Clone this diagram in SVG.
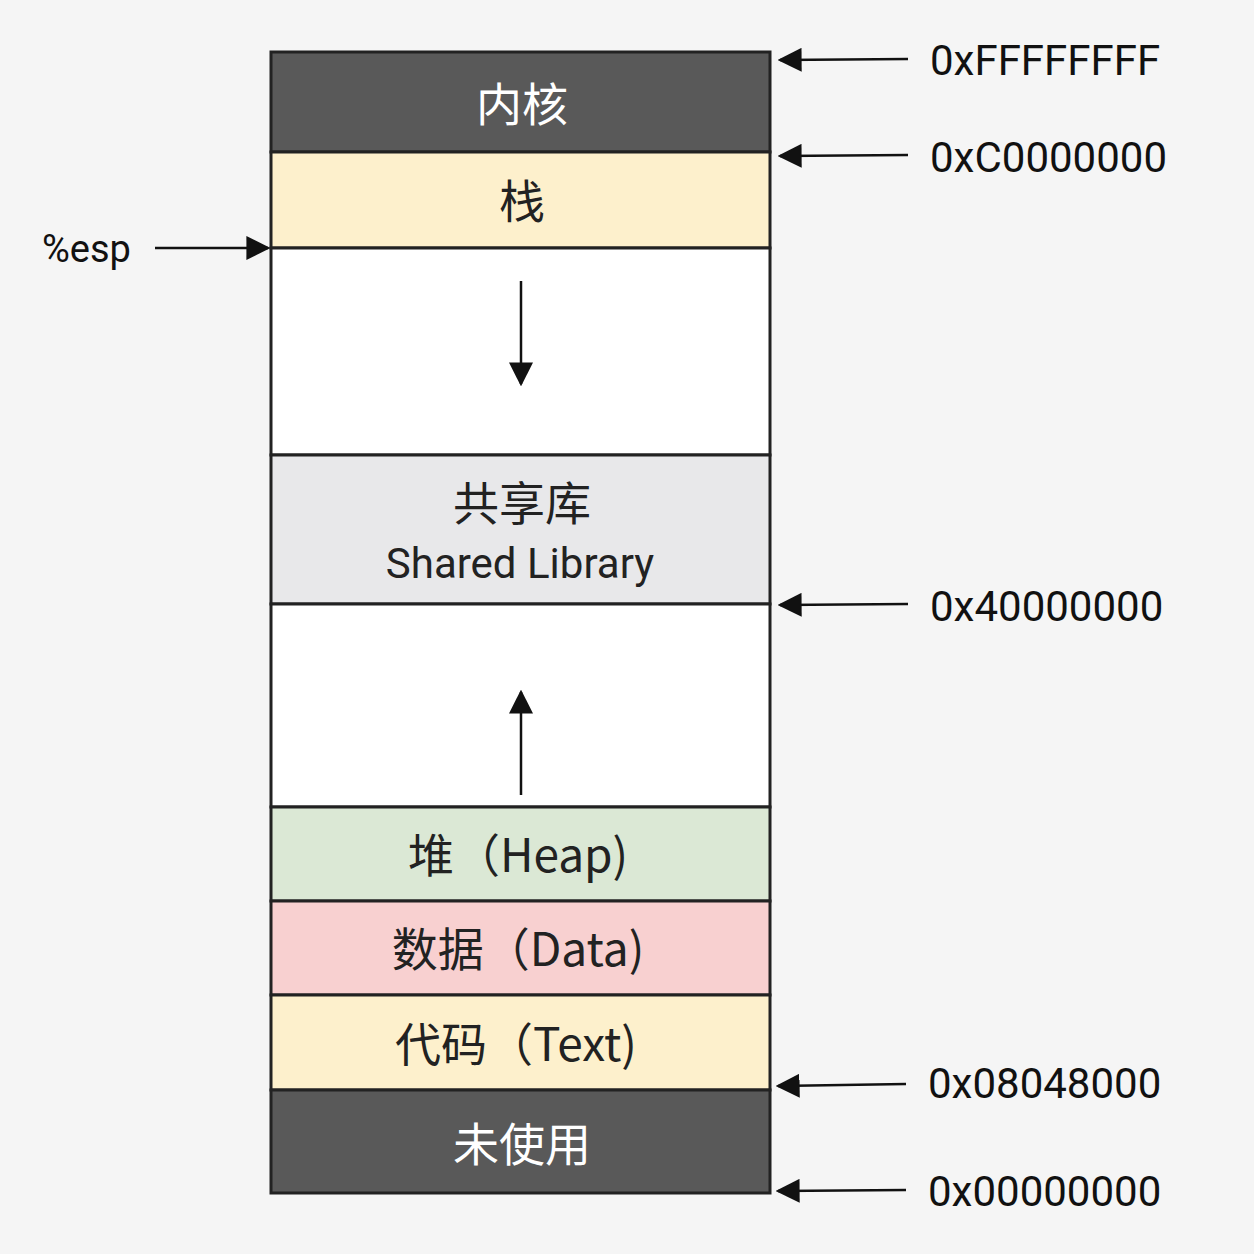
<svg xmlns="http://www.w3.org/2000/svg" width="1254" height="1254" viewBox="0 0 1254 1254">
<style>
.b{stroke:#222;stroke-width:3}
.t{font-family:"Noto Sans CJK SC","Roboto",sans-serif;font-size:46px;text-anchor:middle;fill:#222}
.w{fill:#fff}
.a{font-family:"Roboto","Noto Sans CJK SC",sans-serif;font-size:42px;fill:#111}
.l{stroke:#111;stroke-width:2.5;fill:none}
</style>
<defs><marker id="m" viewBox="0 0 10 10" refX="9" refY="5" markerWidth="9" markerHeight="9" markerUnits="userSpaceOnUse" orient="auto"><path d="M0,0L10,5L0,10z" fill="#111"/></marker>
<marker id="m2" viewBox="0 0 10 10" refX="9" refY="5" markerWidth="24" markerHeight="24" markerUnits="userSpaceOnUse" orient="auto"><path d="M0,0L10,5L0,10z" fill="#111"/></marker></defs>
<rect width="1254" height="1254" fill="#f5f5f5"/>
<g id="kernel"><rect class="b" x="271" y="52" width="499" height="100" fill="#595959"/><text class="t w" x="522" y="121">内核</text></g>
<g id="stack"><rect class="b" x="271" y="152" width="499" height="96" fill="#fdf0cc"/><text class="t" x="522" y="218">栈</text></g>
<g id="gap1"><rect class="b" x="271" y="248" width="499" height="207" fill="#fff"/></g>
<g id="shared"><rect class="b" x="271" y="455" width="499" height="149" fill="#e8e8ea"/><text class="t" x="522" y="520">共享库</text><text class="t" x="520" y="578" style="font-family:Roboto,sans-serif;font-size:42px">Shared Library</text></g>
<g id="gap2"><rect class="b" x="271" y="604" width="499" height="203" fill="#fff"/></g>
<g id="heap"><rect class="b" x="271" y="807" width="499" height="94" fill="#dbe8d5"/><text class="t" x="518" y="872">堆（Heap)</text></g>
<g id="data"><rect class="b" x="271" y="901" width="499" height="94" fill="#f8d0d0"/><text class="t" x="518" y="966">数据（Data)</text></g>
<g id="text"><rect class="b" x="271" y="995" width="499" height="95" fill="#fdf0cc"/><text class="t" x="516" y="1061">代码（Text)</text></g>
<g id="unused"><rect class="b" x="271" y="1090" width="499" height="103" fill="#595959"/><text class="t w" x="522" y="1161">未使用</text></g>
<g id="labels">
<text class="a" x="930" y="75">0xFFFFFFFF</text>
<text class="a" x="930" y="172">0xC0000000</text>
<text class="a" x="930" y="621">0x40000000</text>
<text class="a" x="928" y="1098">0x08048000</text>
<text class="a" x="928" y="1206">0x00000000</text>
<text class="a" x="42" y="262" style="font-size:38px">%esp</text>
</g>
<g id="connectors">
<line class="l" x1="908" y1="59" x2="780" y2="60" marker-end="url(#m2)"/>
<line class="l" x1="908" y1="155" x2="780" y2="156" marker-end="url(#m2)"/>
<line class="l" x1="908" y1="604" x2="780" y2="605" marker-end="url(#m2)"/>
<line class="l" x1="906" y1="1084" x2="778" y2="1086" marker-end="url(#m2)"/>
<line class="l" x1="906" y1="1190" x2="778" y2="1191" marker-end="url(#m2)"/>
<line class="l" x1="155" y1="248" x2="268" y2="248" marker-end="url(#m2)"/>
<line class="l" x1="521" y1="281" x2="521" y2="384" marker-end="url(#m2)"/>
<line class="l" x1="521" y1="795" x2="521" y2="692" marker-end="url(#m2)"/>
</g>
</svg>
